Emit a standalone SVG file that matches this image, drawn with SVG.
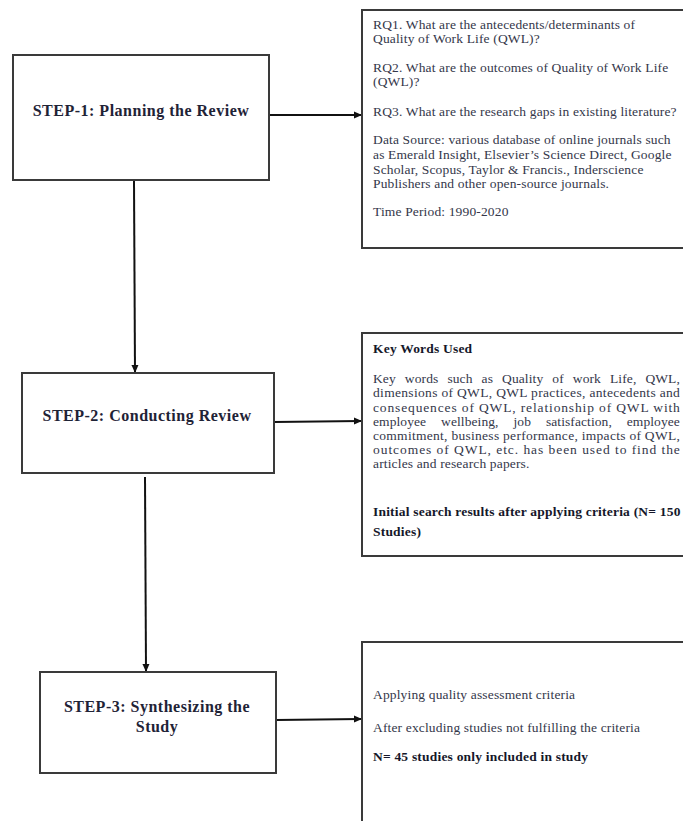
<svg xmlns="http://www.w3.org/2000/svg" width="683" height="821" viewBox="0 0 683 821">
<style>
.box{fill:#fff;stroke:#3a3a3a;stroke-width:2}
.step{font-family:"Liberation Serif","Times New Roman",serif;font-weight:bold;font-size:16px;letter-spacing:0.5px;fill:#1f2336;text-anchor:middle}
.t{font-family:"Liberation Serif","Times New Roman",serif;font-size:13.5px;letter-spacing:0.15px;fill:#34374a}
.b{font-family:"Liberation Serif","Times New Roman",serif;font-size:13.5px;letter-spacing:0.2px;font-weight:bold;fill:#15172a}
.c{stroke:#111;stroke-width:2;fill:none}
</style>
<defs>
<marker id="ah" markerWidth="8" markerHeight="8" refX="7" refY="4" orient="auto" markerUnits="userSpaceOnUse">
<path d="M0,0.5 L8,4 L0,7.5 Z" fill="#111"/>
</marker>
</defs>
<rect width="683" height="821" fill="#fff"/>
<g id="connectors">
<line class="c" x1="269" y1="115" x2="361" y2="115" marker-end="url(#ah)"/>
<line class="c" x1="134" y1="181" x2="135" y2="372" marker-end="url(#ah)"/>
<line class="c" x1="274" y1="422" x2="361" y2="421" marker-end="url(#ah)"/>
<line class="c" x1="145" y1="477" x2="146" y2="671" marker-end="url(#ah)"/>
<line class="c" x1="276" y1="720" x2="361" y2="719" marker-end="url(#ah)"/>
</g>
<g id="step1">
<rect class="box" x="13" y="55" width="256" height="125"/>
<text class="step" x="141" y="116">STEP-1: Planning the Review</text>
</g>
<g id="step2">
<rect class="box" x="22" y="373" width="252" height="100"/>
<text class="step" x="147" y="421">STEP-2: Conducting Review</text>
</g>
<g id="step3">
<rect class="box" x="40" y="672" width="236" height="101"/>
<text class="step" x="157" y="712">STEP-3: Synthesizing the</text>
<text class="step" x="157" y="732">Study</text>
</g>
<g id="planning-details">
<rect class="box" x="362" y="10" width="340" height="238"/>
<text class="t" x="373" y="29">RQ1. What are the antecedents/determinants of</text>
<text class="t" x="373" y="43">Quality of Work Life (QWL)?</text>
<text class="t" x="373" y="72">RQ2. What are the outcomes of Quality of Work Life</text>
<text class="t" x="373" y="86">(QWL)?</text>
<text class="t" x="373" y="116">RQ3. What are the research gaps in existing literature?</text>
<text class="t" x="373" y="144">Data Source: various database of online journals such</text>
<text class="t" x="373" y="159">as Emerald Insight, Elsevier’s Science Direct, Google</text>
<text class="t" x="373" y="174">Scholar, Scopus, Taylor &amp; Francis., Inderscience</text>
<text class="t" x="373" y="188">Publishers and other open-source journals.</text>
<text class="t" x="373" y="216">Time Period: 1990-2020</text>
</g>
<g id="conducting-details">
<rect class="box" x="362" y="333" width="340" height="223"/>
<text class="b" x="373" y="353">Key Words Used</text>
<text class="t" x="373" y="383" word-spacing="5.5" textLength="307" lengthAdjust="spacing">Key words such as Quality of work Life, QWL,</text>
<text class="t" x="373" y="397" textLength="307" lengthAdjust="spacing">dimensions of QWL, QWL practices, antecedents and</text>
<text class="t" x="373" y="412" textLength="307" lengthAdjust="spacing">consequences of QWL, relationship of QWL with</text>
<text class="t" x="373" y="426" word-spacing="11.5" textLength="307" lengthAdjust="spacing">employee wellbeing, job satisfaction, employee</text>
<text class="t" x="373" y="440" textLength="307" lengthAdjust="spacing">commitment, business performance, impacts of QWL,</text>
<text class="t" x="373" y="454" textLength="307" lengthAdjust="spacing">outcomes of QWL, etc. has been used to find the</text>
<text class="t" x="373" y="468">articles and research papers.</text>
<text class="b" x="373" y="516">Initial search results after applying criteria (N= 150</text>
<text class="b" x="373" y="536">Studies)</text>
</g>
<g id="synthesizing-details">
<rect class="box" x="362" y="642" width="340" height="200"/>
<text class="t" x="373" y="699">Applying quality assessment criteria</text>
<text class="t" x="373" y="732">After excluding studies not fulfilling the criteria</text>
<text class="b" x="373" y="761">N= 45 studies only included in study</text>
</g>
</svg>
